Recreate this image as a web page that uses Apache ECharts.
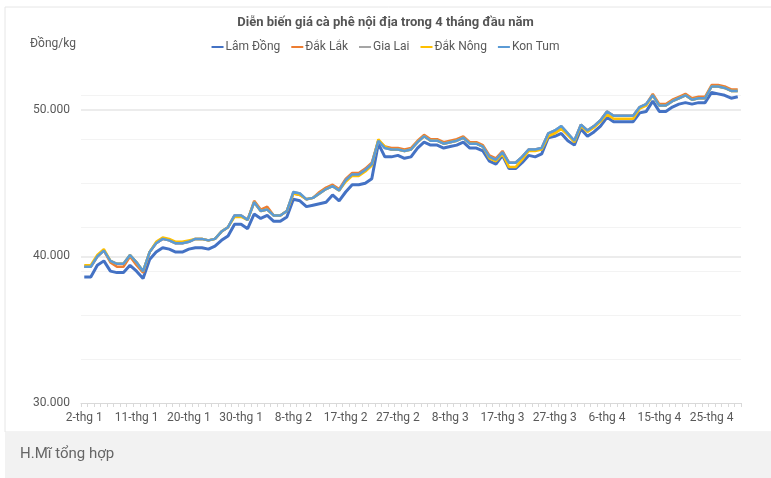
<!DOCTYPE html>
<html>
<head>
<meta charset="utf-8">
<script src="https://cdn.jsdelivr.net/npm/echarts@6/dist/echarts.min.js"></script>
<style>
html,body{margin:0;padding:0;background:#fff;}
#c{width:771px;height:478px;}
</style>
</head>
<body>
<div id="c"></div>
<script>
const categories = [
'2-thg 1','3-thg 1','4-thg 1','5-thg 1','6-thg 1','7-thg 1','9-thg 1','10-thg 1','11-thg 1','12-thg 1','13-thg 1','14-thg 1','16-thg 1','17-thg 1','18-thg 1','19-thg 1','20-thg 1','21-thg 1','23-thg 1','24-thg 1','25-thg 1','26-thg 1','27-thg 1','28-thg 1','30-thg 1','31-thg 1',
'1-thg 2','2-thg 2','3-thg 2','4-thg 2','6-thg 2','7-thg 2','8-thg 2','9-thg 2','10-thg 2','11-thg 2','13-thg 2','14-thg 2','15-thg 2','16-thg 2','17-thg 2','18-thg 2','20-thg 2','21-thg 2','22-thg 2','23-thg 2','24-thg 2','25-thg 2','27-thg 2','28-thg 2',
'1-thg 3','2-thg 3','3-thg 3','4-thg 3','6-thg 3','7-thg 3','8-thg 3','9-thg 3','10-thg 3','11-thg 3','13-thg 3','14-thg 3','15-thg 3','16-thg 3','17-thg 3','18-thg 3','20-thg 3','21-thg 3','22-thg 3','23-thg 3','24-thg 3','25-thg 3','27-thg 3','28-thg 3','29-thg 3','30-thg 3','31-thg 3',
'3-thg 4','4-thg 4','5-thg 4','6-thg 4','7-thg 4','8-thg 4','10-thg 4','11-thg 4','12-thg 4','13-thg 4','14-thg 4','15-thg 4','17-thg 4','18-thg 4','19-thg 4','20-thg 4','21-thg 4','22-thg 4','24-thg 4','25-thg 4','26-thg 4','27-thg 4','28-thg 4','29-thg 4'
];

const lamDong = [
38600,38600,39400,39700,39000,38900,38900,39400,39000,38500,
39800,40300,40600,40500,40300,40300,40500,40600,40600,40500,
40700,41100,41400,42200,42200,41900,42900,42600,42800,42400,
42400,42700,43900,43800,43400,43500,43600,43700,44200,43800,
44400,44900,44900,45000,45300,47700,46800,46800,46900,46700,
46800,47400,47800,47600,47600,47400,47500,47600,47800,47400,
47400,47200,46500,46300,46900,46000,46000,46400,46900,46800,
47000,48100,48200,48400,47900,47600,48700,48200,48500,48900,
49500,49200,49200,49200,49200,49800,49900,50600,49900,49900,
50200,50400,50500,50400,50500,50500,51200,51100,51000,50800,50900];

const dakLak = [
39300,39300,40000,40400,39600,39300,39300,40000,39400,38900,
40300,40900,41200,41100,40900,40900,41000,41200,41200,41100,
41200,41700,42000,42800,42800,42500,43800,43200,43400,42800,
42800,43100,44300,44200,43900,44000,44400,44700,44900,44600,
45300,45700,45700,46000,46400,47900,47500,47400,47400,47300,
47400,47900,48300,48000,48000,47800,47900,48000,48200,47800,
47800,47600,46900,46700,47200,46400,46400,46800,47300,47300,
47400,48400,48500,48800,48300,47900,49000,48600,48900,49300,
49900,49600,49600,49600,49600,50200,50400,51100,50400,50400,
50700,50900,51100,50800,50900,50900,51700,51700,51600,51400,51400];

const giaLai = [
39300,39300,40000,40400,39700,39500,39500,40100,39600,39000,
40300,40900,41200,41100,40900,40900,41000,41200,41200,41100,
41200,41700,42000,42800,42800,42500,43700,43100,43200,42800,
42800,43100,44400,44300,43900,44000,44300,44600,44800,44500,
45200,45600,45600,45900,46300,47900,47400,47300,47300,47200,
47300,47800,48200,47900,47900,47700,47800,47900,48100,47700,
47700,47500,46800,46600,47100,46400,46400,46800,47300,47300,
47400,48400,48600,48900,48400,47900,49000,48600,48900,49300,
49900,49600,49600,49600,49600,50200,50400,51000,50300,50300,
50600,50800,51000,50700,50800,50800,51600,51600,51500,51300,51300];

const dakNong = [
39400,39400,40100,40500,39700,39500,39500,40100,39600,39000,
40300,41000,41300,41200,41000,41000,41100,41200,41200,41100,
41200,41700,42000,42700,42700,42500,43700,43100,43200,42800,
42800,43100,44300,44200,43900,44000,44300,44600,44800,44500,
45100,45500,45500,45800,46200,48000,47500,47300,47300,47200,
47300,47800,48200,47900,47900,47700,47800,47900,48100,47700,
47700,47500,46700,46500,47000,46100,46100,46600,47200,47200,
47300,48200,48400,48700,48300,47800,48900,48500,48800,49200,
49700,49400,49400,49400,49400,50100,50300,51000,50300,50300,
50600,50800,51000,50700,50800,50800,51600,51600,51500,51300,51300];

const konTum = [
39300,39300,40000,40400,39700,39500,39500,40100,39600,39000,
40300,40900,41200,41100,40900,40900,41000,41200,41200,41100,
41200,41700,42000,42800,42800,42500,43700,43100,43200,42800,
42800,43100,44400,44300,43900,44000,44300,44600,44800,44500,
45200,45600,45600,45900,46300,47900,47400,47300,47300,47200,
47300,47800,48200,47900,47900,47700,47800,47900,48100,47700,
47700,47500,46800,46600,47100,46400,46400,46800,47300,47300,
47400,48400,48600,48900,48400,47900,49000,48600,48900,49300,
49900,49600,49600,49600,49600,50200,50400,51000,50300,50300,
50600,50800,51000,50700,50800,50800,51600,51600,51500,51300,51300];

const seriesNames = ['Lâm Đồng','Đắk Lắk','Gia Lai','Đắk Nông','Kon Tum'];
const seriesData = [lamDong, dakLak, giaLai, dakNong, konTum];
const seriesColors = ['#4472C4','#ED7D31','#A5A5A5','#FFC000','#5B9BD5'];
const titleText = 'Diễn biến giá cà phê nội địa trong 4 tháng đầu năm';
const unitText = 'Đồng/kg';
const sourceText = 'H.Mĩ tổng hợp';

const FONT = 'Roboto, "Liberation Sans", sans-serif';
const TXT = '#595959';
const fmt = v => String(v).replace(/\B(?=(\d{3})+(?!\d))/g, '.');

const chart = echarts.init(document.getElementById('c'), null, {renderer:'canvas'});
chart.setOption({
  animation:false,
  backgroundColor:'#fff',
  textStyle:{fontFamily:FONT},
  title:{
    text:titleText, left:'center', top:11,
    textStyle:{fontSize:13, fontWeight:'bold', color:'#555', fontFamily:FONT}
  },
  legend:{
    data:seriesNames, top:36, left:'center', itemGap:11,
    itemWidth:12, itemHeight:2, icon:'rect',
    textStyle:{fontSize:12, color:TXT, fontFamily:FONT, padding:[0,0,0,-3]}
  },
  graphic:[
    {type:'rect', shape:{x:5, y:7, width:770, height:425}, style:{fill:'none', stroke:'#e6e6e6', lineWidth:1}, silent:true, z:-10},
    {type:'rect', shape:{x:5, y:432, width:770, height:46}, style:{fill:'#f2f2f2'}, silent:true, z:-10},
    {type:'text', left:30, top:38, style:{text:unitText, fontSize:12, fill:TXT, fontFamily:FONT}},
    {type:'text', left:20, top:447, style:{text:sourceText, fontSize:15, fill:'#666', fontFamily:FONT}}
  ],
  grid:{left:81, right:30, top:66, bottom:75, containLabel:false},
  xAxis:{
    type:'category', data:categories, boundaryGap:true,
    axisLine:{lineStyle:{color:'#d9d9d9', width:1}},
    axisTick:{show:true, interval:0, length:4, lineStyle:{color:'#d9d9d9'}},
    axisLabel:{interval:7, fontSize:12, color:TXT, margin:9, fontFamily:FONT},
    splitLine:{show:false}
  },
  yAxis:[
    {
      type:'value', min:30000, max:53000, interval:10000,
      axisLine:{show:false}, axisTick:{show:false},
      axisLabel:{fontSize:12, color:TXT, margin:11, formatter:fmt, showMaxLabel:false, fontFamily:FONT},
      splitLine:{show:true, showMaxLine:false, showMinLine:false, lineStyle:{color:'#e6e6e6', width:1.5}}
    },
    {
      type:'value', min:30000, max:53000, interval:3000, position:'left',
      axisLine:{show:false}, axisTick:{show:false}, axisLabel:{show:false},
      splitLine:{show:true, showMaxLine:false, showMinLine:false, lineStyle:{color:'#f3f3f3', width:1}}
    }
  ],
  series: seriesNames.map((n,i)=>({
    name:n, type:'line', data:seriesData[i], yAxisIndex:0,
    symbol:'none', smooth:false,
    lineStyle:{color:seriesColors[i], width: i===0 ? 3 : 2.5},
    itemStyle:{color:seriesColors[i]},
    z: 2+i
  }))
});
</script>
</body>
</html>
